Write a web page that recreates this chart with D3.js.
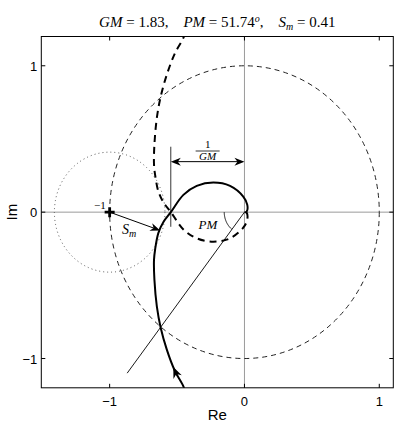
<!DOCTYPE html>
<html>
<head>
<meta charset="utf-8">
<script src="https://cdn.jsdelivr.net/npm/d3@7"></script>
<style>
  body { margin: 0; background: #fff; }
  svg { display: block; }
  .tick-label { font-family: "Liberation Sans", Arial, sans-serif; font-size: 13px; }
  .tex { font-family: "Liberation Serif", "Times New Roman", serif; }
</style>
</head>
<body>
<svg width="397" height="427"></svg>
<script>
// Nyquist curve, positive frequencies
const nyqRe = [-0.44, -0.453, -0.515, -0.576, -0.621, -0.650, -0.668, -0.671, -0.663, -0.639, -0.600, -0.546, -0.453, -0.354, -0.231, -0.107, -0.009, 0.021, 0.016, 0];
const nyqIm = [-1.23, -1.19, -1.087, -0.939, -0.791, -0.643, -0.461, -0.325, -0.257, -0.143, -0.066, 0, 0.118, 0.179, 0.202, 0.179, 0.106, 0.050, 0.004, 0];

const xTicks = [-1, 0, 1];
const yTicks = [-1, 0, 1];

const gm = 1.83;
const pmDeg = 51.74;
const sm = 0.41;

const pmLine = [[0, 0], [-0.87, -1.10]];
const smArrowEnd = [-0.625, -0.125];
const gmArrowY = 0.345;
const gmTickY = [0.447, -0.10];
const pmArcR = 0.15;
const curveArrow = [[-0.49, -1.14], [-0.528, -1.058]]; // tail, tip

const svg = d3.select('svg');
const pl = 41.3, pr = 393.3, pt = 36.5, pb = 387.8;

const x = d3.scaleLinear().domain([-1.507, 1.104]).range([pl, pr]);
const y = d3.scaleLinear().domain([-1.2, 1.2]).range([pb, pt]);

svg.append('clipPath').attr('id', 'clip')
  .append('rect').attr('x', pl).attr('y', pt)
  .attr('width', pr - pl).attr('height', pb - pt);

const plot = svg.append('g').attr('clip-path', 'url(#clip)');

// real / imaginary axis lines
plot.append('line')
  .attr('x1', pl).attr('x2', pr).attr('y1', y(0)).attr('y2', y(0))
  .attr('stroke', '#9a9a9a').attr('stroke-width', 1);
plot.append('line')
  .attr('x1', x(0)).attr('x2', x(0)).attr('y1', pt).attr('y2', pb)
  .attr('stroke', '#9a9a9a').attr('stroke-width', 1);

// unit circle
plot.append('ellipse')
  .attr('cx', x(0)).attr('cy', y(0))
  .attr('rx', x(1) - x(0)).attr('ry', y(0) - y(1))
  .attr('fill', 'none').attr('stroke', '#222').attr('stroke-width', 1)
  .attr('stroke-dasharray', '5,4');

// stability margin circle
plot.append('ellipse')
  .attr('cx', x(-1)).attr('cy', y(0))
  .attr('rx', x(-1 + sm) - x(-1)).attr('ry', y(0) - y(sm))
  .attr('fill', 'none').attr('stroke', '#555').attr('stroke-width', 1)
  .attr('stroke-dasharray', '1,3');

const pts = nyqRe.map((r, i) => [r, nyqIm[i]]);
const line = d3.line().x(d => x(d[0])).y(d => y(d[1])).curve(d3.curveCatmullRom);

// negative frequencies (mirror)
plot.append('path')
  .attr('d', line(pts.map(d => [d[0], -d[1]])))
  .attr('fill', 'none').attr('stroke', '#000').attr('stroke-width', 2)
  .attr('stroke-dasharray', '7,5');

// positive frequencies
plot.append('path')
  .attr('d', line(pts))
  .attr('fill', 'none').attr('stroke', '#000').attr('stroke-width', 2);

// phase margin line
plot.append('line')
  .attr('x1', x(pmLine[0][0])).attr('y1', y(pmLine[0][1]))
  .attr('x2', x(pmLine[1][0])).attr('y2', y(pmLine[1][1]))
  .attr('stroke', '#000').attr('stroke-width', 0.9);

// phase margin arc
const arcPts = d3.range(0, 41).map(i => {
  const a = Math.PI + i / 40 * pmDeg * Math.PI / 180;
  return [pmArcR * Math.cos(a), pmArcR * Math.sin(a)];
});
plot.append('path')
  .attr('d', d3.line().x(d => x(d[0])).y(d => y(d[1]))(arcPts))
  .attr('fill', 'none').attr('stroke', '#000').attr('stroke-width', 0.9);

function arrowHead(g, tx, ty, ang, len, hw) {
  const c = Math.cos(ang), s = Math.sin(ang);
  const p = (a, b) => [tx - a * c + b * s, ty - a * s - b * c];
  const shape = [p(0, 0), p(len, hw), p(len * 0.7, 0), p(len, -hw)];
  g.append('path').attr('d', 'M' + shape.map(q => q.join(',')).join('L') + 'Z')
    .attr('fill', '#000');
}

// arrow on curve
{
  const t0 = [x(curveArrow[0][0]), y(curveArrow[0][1])];
  const t1 = [x(curveArrow[1][0]), y(curveArrow[1][1])];
  arrowHead(plot, t1[0], t1[1], Math.atan2(t1[1] - t0[1], t1[0] - t0[0]), 11, 4.5);
}

// stability margin arrow
{
  const x0 = x(-1), y0 = y(0), x1 = x(smArrowEnd[0]), y1 = y(smArrowEnd[1]);
  const ang = Math.atan2(y1 - y0, x1 - x0);
  plot.append('line').attr('x1', x0).attr('y1', y0)
    .attr('x2', x1 - 6 * Math.cos(ang)).attr('y2', y1 - 6 * Math.sin(ang))
    .attr('stroke', '#000').attr('stroke-width', 1);
  arrowHead(plot, x1, y1, ang, 10, 4);
}

// gain margin construction
plot.append('line')
  .attr('x1', x(-1 / gm)).attr('x2', x(-1 / gm))
  .attr('y1', y(gmTickY[0])).attr('y2', y(gmTickY[1]))
  .attr('stroke', '#000').attr('stroke-width', 0.8);
plot.append('line')
  .attr('x1', x(-1 / gm) + 6).attr('x2', x(0) - 6)
  .attr('y1', y(gmArrowY)).attr('y2', y(gmArrowY))
  .attr('stroke', '#000').attr('stroke-width', 1);
arrowHead(plot, x(-1 / gm), y(gmArrowY), Math.PI, 10, 4);
arrowHead(plot, x(0), y(gmArrowY), 0, 10, 4);

// -1 marker
plot.append('path')
  .attr('d', `M${x(-1) - 5},${y(0)}H${x(-1) + 5}M${x(-1)},${y(0) - 5}V${y(0) + 5}`)
  .attr('stroke', '#000').attr('stroke-width', 2.8);

// annotation labels
const fracX = (x(-1 / gm) + x(0)) / 2;
svg.append('text').attr('class', 'tex').attr('x', fracX).attr('y', 148)
  .attr('text-anchor', 'middle').style('font-size', '11px').text('1');
svg.append('line').attr('x1', fracX - 12).attr('x2', fracX + 12)
  .attr('y1', 151).attr('y2', 151).attr('stroke', '#000').attr('stroke-width', 0.8);
svg.append('text').attr('class', 'tex').attr('x', fracX).attr('y', 160)
  .attr('text-anchor', 'middle').style('font-size', '11px').style('font-style', 'italic').text('GM');

svg.append('text').attr('class', 'tex').attr('x', x(-1) - 4).attr('y', y(0) - 3)
  .attr('text-anchor', 'end').style('font-size', '11px').text('\u22121');

const smT = svg.append('text').attr('class', 'tex').attr('x', 122).attr('y', 234)
  .style('font-size', '14px').style('font-style', 'italic');
smT.append('tspan').text('S');
smT.append('tspan').attr('dy', 3).style('font-size', '10px').text('m');

svg.append('text').attr('class', 'tex').attr('x', 208).attr('y', 229)
  .attr('text-anchor', 'middle').style('font-size', '13px').style('font-style', 'italic').text('PM');

// frame and ticks
svg.append('rect').attr('x', pl).attr('y', pt)
  .attr('width', pr - pl).attr('height', pb - pt)
  .attr('fill', 'none').attr('stroke', '#000').attr('stroke-width', 1);

xTicks.forEach(t => {
  svg.append('line').attr('x1', x(t)).attr('x2', x(t)).attr('y1', pb).attr('y2', pb - 4).attr('stroke', '#000');
  svg.append('line').attr('x1', x(t)).attr('x2', x(t)).attr('y1', pt).attr('y2', pt + 4).attr('stroke', '#000');
  svg.append('text').attr('class', 'tick-label').attr('x', x(t)).attr('y', pb + 18)
    .attr('text-anchor', 'middle').text(t < 0 ? '\u2212' + Math.abs(t) : t);
});
yTicks.forEach(t => {
  svg.append('line').attr('x1', pl).attr('x2', pl + 4).attr('y1', y(t)).attr('y2', y(t)).attr('stroke', '#000');
  svg.append('line').attr('x1', pr).attr('x2', pr - 4).attr('y1', y(t)).attr('y2', y(t)).attr('stroke', '#000');
  svg.append('text').attr('class', 'tick-label').attr('x', pl - 4).attr('y', y(t) + 5)
    .attr('text-anchor', 'end').text(t < 0 ? '\u2212' + Math.abs(t) : t);
});

svg.append('text').attr('class', 'tick-label').attr('x', (pl + pr) / 2).attr('y', 420)
  .attr('text-anchor', 'middle').style('font-size', '15px').text('Re');
svg.append('text').attr('class', 'tick-label')
  .attr('transform', `translate(17,${(pt + pb) / 2}) rotate(-90)`)
  .attr('text-anchor', 'middle').style('font-size', '15px').text('Im');

// title
const title = svg.append('text').attr('class', 'tex').attr('x', (pl + pr) / 2).attr('y', 27)
  .attr('text-anchor', 'middle').style('font-size', '15px');
title.append('tspan').style('font-style', 'italic').text('GM');
title.append('tspan').text(' = ' + gm.toFixed(2) + ',\u2003');
title.append('tspan').style('font-style', 'italic').text('PM');
title.append('tspan').text(' = ' + pmDeg.toFixed(2));
title.append('tspan').attr('dy', -5).style('font-size', '10px').style('font-style', 'italic').text('o');
title.append('tspan').attr('dy', 5).text(',\u2003');
title.append('tspan').style('font-style', 'italic').text('S');
title.append('tspan').attr('dy', 3).style('font-size', '10px').style('font-style', 'italic').text('m');
title.append('tspan').attr('dy', -3).text(' = ' + sm.toFixed(2));
</script>
</body>
</html>
